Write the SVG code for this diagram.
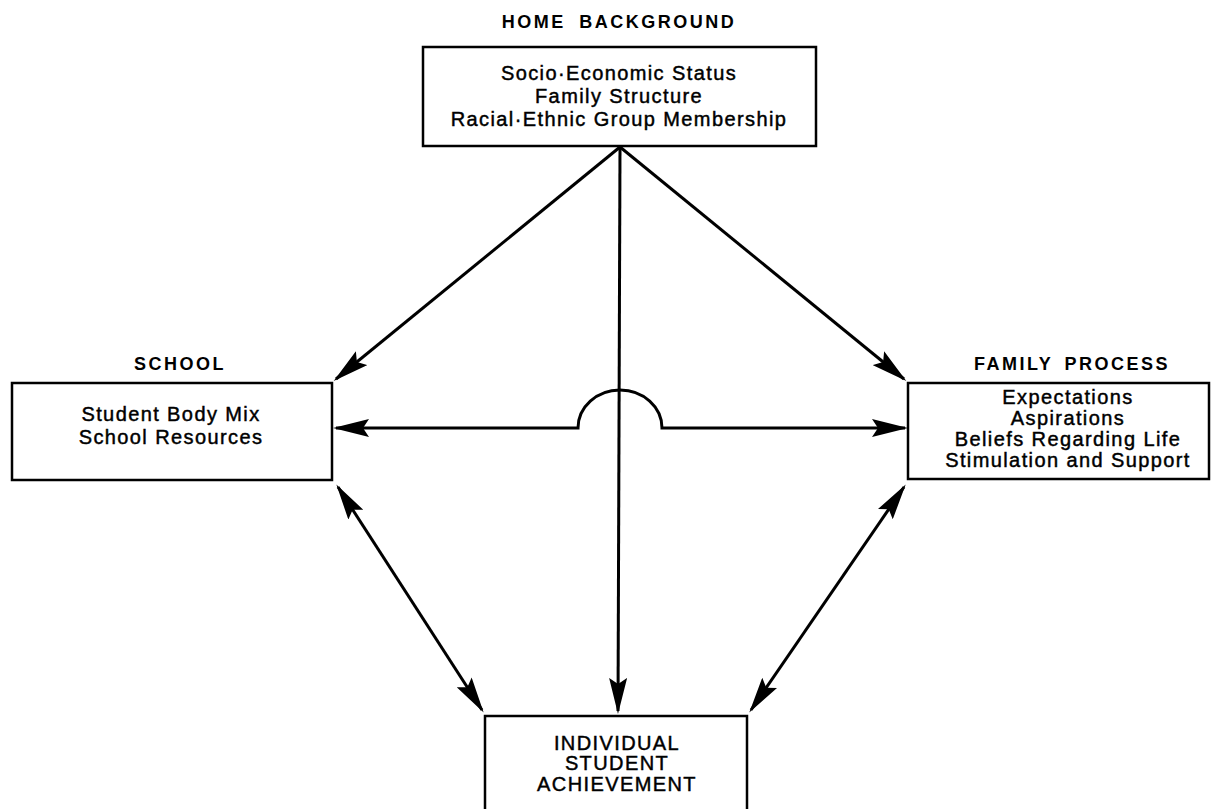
<svg xmlns="http://www.w3.org/2000/svg" width="1218" height="809" viewBox="0 0 1218 809">
<style>
.box{fill:#fff;stroke:#000;stroke-width:2.5}
.title{font-family:"Liberation Sans",Arial,sans-serif;font-weight:bold;font-size:18px;letter-spacing:2.5px;text-anchor:middle;fill:#000}
.body{font-family:"Liberation Sans",Arial,sans-serif;font-size:20px;letter-spacing:1.4px;text-anchor:middle;fill:#000;stroke:#000;stroke-width:0.45}
.conn{fill:none;stroke:#000;stroke-width:3}
</style>
<defs>
<marker id="ah" viewBox="0 0 36 18" refX="33" refY="9" markerWidth="36" markerHeight="18" markerUnits="userSpaceOnUse" orient="auto-start-reverse">
<path d="M0,0 L36,9 L0,18 L6,9 Z" fill="#000"/>
</marker>
</defs>
<rect width="1218" height="809" fill="#fff"/>
<g id="connectors">
<line class="conn" x1="620" y1="147" x2="336" y2="379" marker-end="url(#ah)"/>
<line class="conn" x1="620" y1="147" x2="904" y2="379" marker-end="url(#ah)"/>
<line class="conn" x1="620" y1="147" x2="618" y2="711" marker-end="url(#ah)"/>
<path class="conn" d="M336,428 H578 A42 38 0 0 1 662,428 H905" marker-start="url(#ah)" marker-end="url(#ah)"/>
<line class="conn" x1="338" y1="487" x2="482" y2="710" marker-start="url(#ah)" marker-end="url(#ah)"/>
<line class="conn" x1="904" y1="487" x2="751" y2="710" marker-start="url(#ah)" marker-end="url(#ah)"/>
</g>
<g id="home-background">
<text class="title" x="619" y="28" word-spacing="6">HOME BACKGROUND</text>
<rect class="box" x="423" y="47" width="393" height="99"/>
<text class="body" x="619" y="80">Socio·Economic Status</text>
<text class="body" x="619" y="103">Family Structure</text>
<text class="body" x="619" y="126">Racial·Ethnic Group Membership</text>
</g>
<g id="school">
<text class="title" x="180" y="370">SCHOOL</text>
<rect class="box" x="12" y="383" width="320" height="97"/>
<text class="body" x="171" y="421">Student Body Mix</text>
<text class="body" x="171" y="444">School Resources</text>
</g>
<g id="family-process">
<text class="title" x="1072" y="370" word-spacing="4">FAMILY PROCESS</text>
<rect class="box" x="908" y="383" width="301" height="96"/>
<text class="body" x="1068" y="404">Expectations</text>
<text class="body" x="1068" y="425">Aspirations</text>
<text class="body" x="1068" y="446">Beliefs Regarding Life</text>
<text class="body" x="1068" y="467">Stimulation and Support</text>
</g>
<g id="individual-student-achievement">
<rect class="box" x="485" y="716" width="262" height="120"/>
<text class="body" x="617" y="750">INDIVIDUAL</text>
<text class="body" x="617" y="770">STUDENT</text>
<text class="body" x="617" y="791">ACHIEVEMENT</text>
</g>
</svg>
